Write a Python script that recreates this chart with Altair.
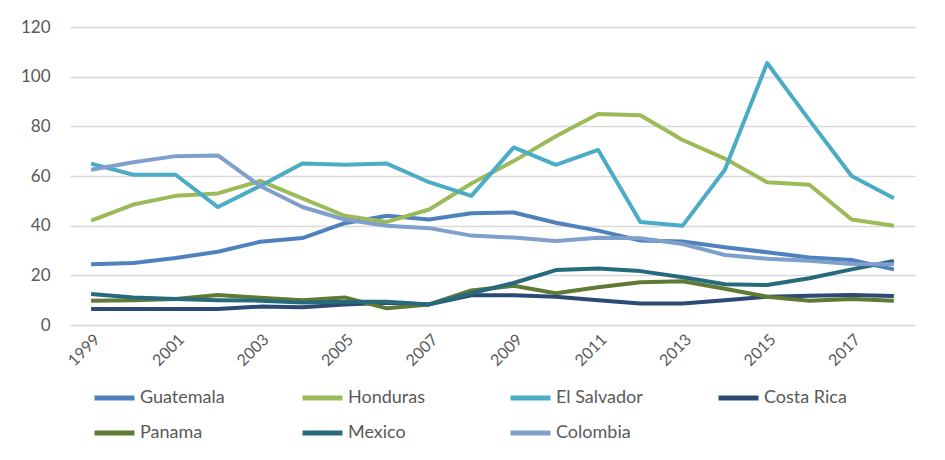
import altair as alt
import pandas as pd

years = list(range(1999, 2019))

guatemala = [24.5, 25, 27, 29.5, 33.5, 35, 41, 44, 42.5, 45, 45.3, 41.2, 38, 34, 33.6, 31.3, 29.3, 27.2, 26.2, 22.4]
honduras = [42, 48.5, 52, 53, 58, 51, 44, 41.5, 46.5, 57, 66, 76, 85, 84.5, 74.5, 67, 57.5, 56.5, 42.5, 40]
el_salvador = [65, 60.5, 60.5, 47.5, 56, 65, 64.5, 65, 57.5, 52, 71.5, 64.5, 70.5, 41.5, 40, 62.5, 105.5, 82.5, 60, 51]
costa_rica = [6.4, 6.4, 6.4, 6.4, 7.4, 7.1, 8.3, 9, 8.3, 12, 12, 11.4, 10, 8.7, 8.7, 10, 11.4, 11.8, 12.1, 11.7]
panama = [9.8, 10, 10.5, 12.1, 11, 10, 11.1, 6.7, 8.3, 13.9, 15.8, 12.8, 15.2, 17.2, 17.6, 14.6, 11.4, 9.8, 10.5, 9.8]
mexico = [12.5, 11.1, 10.5, 10, 9.8, 9.1, 9.4, 9.4, 8.3, 12.8, 16.9, 22.1, 22.8, 21.7, 19.2, 16.4, 16.1, 18.8, 22.4, 25.8]
colombia = [62.5, 65.5, 68, 68.3, 56, 47.5, 42.5, 40, 39, 36, 35.2, 33.8, 35.1, 34.9, 32.6, 28.2, 26.7, 25.9, 24.6, 24.5]

countries = ["Guatemala", "Honduras", "El Salvador", "Costa Rica", "Panama", "Mexico", "Colombia"]
colors = ["#4f81bd", "#9bbb59", "#4bacc6", "#2c4a74", "#5e7a34", "#276a7c", "#7f9fcc"]
series = [guatemala, honduras, el_salvador, costa_rica, panama, mexico, colombia]

rows = []
for name, vals in zip(countries, series):
    for yr, v in zip(years, vals):
        rows.append({"year": yr, "value": v, "country": name})
df = pd.DataFrame(rows)

font = "Lato"
grey = "#595959"

chart = alt.Chart(df).mark_line(strokeWidth=4, strokeJoin="round").encode(
    x=alt.X("year:Q",
            scale=alt.Scale(domain=[1998.5, 2018.5], nice=False, zero=False),
            axis=alt.Axis(values=list(range(1999, 2019, 2)), format="d", labelAngle=-45,
                          grid=False, ticks=False, domain=False, labelFontSize=16,
                          labelColor=grey, labelFont=font, labelPadding=6, title=None)),
    y=alt.Y("value:Q",
            scale=alt.Scale(domain=[0, 120], nice=False),
            axis=alt.Axis(values=[0, 20, 40, 60, 80, 100, 120], grid=True, gridColor="#d9d9d9",
                          gridWidth=1.5, ticks=False, domain=False, labelFontSize=17,
                          labelColor=grey, labelFont=font, labelPadding=20, title=None)),
    color=alt.Color("country:N",
                    scale=alt.Scale(domain=countries, range=colors),
                    sort=countries,
                    legend=alt.Legend(title=None, orient="none", legendX=22, legendY=361,
                                      direction="horizontal", columns=4, gridAlign="all",
                                      columnPadding=73, rowPadding=15, clipHeight=20,
                                      symbolType="stroke", symbolSize=1600,
                                      symbolStrokeWidth=5, symbolOffset=0,
                                      labelFontSize=18, labelFont=font, labelColor=grey,
                                      labelOffset=3)),
    order=alt.Order("year:Q"),
).properties(
    width=845,
    height=298,
    padding={"left": 62, "top": 19, "right": 22, "bottom": 127},
    autosize=alt.AutoSizeParams(type="none"),
).configure_view(stroke=None)

chart.save("out.html", embed_options={"renderer": "svg", "actions": False})
